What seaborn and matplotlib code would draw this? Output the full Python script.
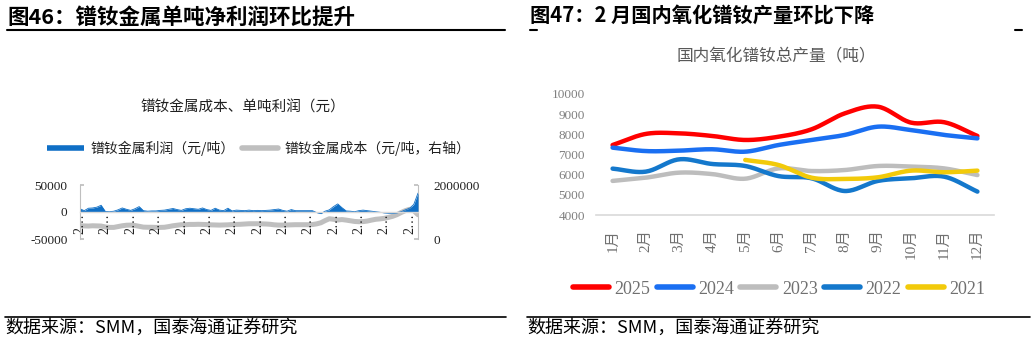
import numpy as np
import pandas as pd
import matplotlib
matplotlib.use("Agg")
import matplotlib.pyplot as plt
import seaborn as sns
from matplotlib.lines import Line2D

sns.set_theme(style="white")
plt.rcParams['font.family'] = ['Noto Sans CJK SC', 'DejaVu Sans']
plt.rcParams['axes.unicode_minus'] = False

SERIF = ['Liberation Serif', 'Noto Sans CJK SC', 'DejaVu Sans']

# ---------------- Left chart data (figure 46) ----------------
profit = [6000, 2500, 7000, 7500, 9000, 12500, 1000, 500, 1500, 4000,
          7500, 5000, 3000, 6000, 10000, 2500, 1500, 2000, 2000, 3000,
          3500, 5000, 6500, 4500, 3000, 6000, 7000, 6000, 5000, 7500,
          4500, 3000, 7000, 3500, 2500, 7000, 2000, 3500, 3000, 2500,
          3500, 2500, 3000, 2500, 3000, 3500, 4500, 5500, 3000, 1500,
          4500, 2500, 2500, 2500, 2500, 2500, -1000, -3000, 1500, 4000,
          10000, 15000, 8000, 2000, 1500, 500, 2500, 3500, 2500, 1500,
          500, -500, -1500, -2000, -2000, -1500, 500, 4000, 7000, 14000,
          35000]
cost = [490000, 485000, 480000, 490000, 485000, 480000, 445000, 430000, 430000, 460000,
        490000, 510000, 515000, 500000, 470000, 440000, 435000, 435000, 430000, 430000,
        435000, 460000, 490000, 510000, 530000, 530000, 540000, 540000, 545000, 540000,
        535000, 525000, 520000, 515000, 520000, 525000, 535000, 540000, 545000, 555000,
        565000, 565000, 565000, 560000, 555000, 545000, 525000, 515000, 515000, 520000,
        525000, 530000, 530000, 530000, 530000, 535000, 560000, 600000, 680000, 750000,
        730000, 705000, 720000, 700000, 675000, 650000, 640000, 645000, 665000, 700000,
        730000, 745000, 765000, 800000, 840000, 900000, 980000, 1050000, 1100000, 1050000,
        900000]
left_tick_step = 6
left_tick_text = "2…"
left_series = ["镨钕金属利润（元/吨）", "镨钕金属成本（元/吨，右轴）"]
left_yticks = [-50000, 0, 50000]
left_y2ticks = [0, 2000000]

# ---------------- Right chart data (figure 47) ----------------
months = ["1月", "2月", "3月", "4月", "5月", "6月", "7月", "8月", "9月", "10月", "11月", "12月"]
y2025 = [7470, 8020, 8050, 7920, 7720, 7880, 8250, 9040, 9370, 8580, 8600, 7920]
y2024 = [7340, 7170, 7190, 7260, 7140, 7470, 7720, 7970, 8380, 8210, 7970, 7800]
y2023 = [5690, 5850, 6100, 6030, 5800, 6310, 6180, 6230, 6430, 6400, 6310, 5980]
y2022 = [6300, 6150, 6760, 6530, 6430, 5930, 5820, 5190, 5690, 5820, 5900, 5160]
y2021 = [np.nan, np.nan, np.nan, np.nan, 6730, 6480, 5850, 5790, 5870, 6200, 6120, 6200]
years = ["2025", "2024", "2023", "2022", "2021"]
colors = ["#FF0000", "#1A6FF2", "#BDBDBD", "#1478CC", "#F2CA0A"]

W, H = 1032, 342
fig = plt.figure(figsize=(W / 100, H / 100), dpi=100)
fig.patch.set_facecolor("white")


def fx(px):
    return px / W


def fy(py):
    return 1 - py / H


def smooth(xs, ys, steps=20):
    xs = np.asarray(xs, float)
    ys = np.asarray(ys, float)
    px = np.concatenate([[2 * xs[0] - xs[1]], xs, [2 * xs[-1] - xs[-2]]])
    py = np.concatenate([[2 * ys[0] - ys[1]], ys, [2 * ys[-1] - ys[-2]]])
    ox, oy = [], []
    t = np.linspace(0, 1, steps, endpoint=False)
    for i in range(1, len(px) - 2):
        for arr, out in ((px, ox), (py, oy)):
            p0, p1, p2, p3 = arr[i - 1:i + 3]
            out.extend(0.5 * (2 * p1 + (-p0 + p2) * t + (2 * p0 - 5 * p1 + 4 * p2 - p3) * t ** 2
                              + (-p0 + 3 * p1 - 3 * p2 + p3) * t ** 3))
    ox.append(xs[-1])
    oy.append(ys[-1])
    return np.array(ox), np.array(oy)


# ================= Left chart =================
axL = fig.add_axes([fx(80), fy(239), fx(338), 54 / H])
xL = np.arange(len(profit))
dfL = pd.DataFrame({"x": xL, "profit": profit, "cost": cost})
axL.fill_between(dfL["x"], 0, dfL["profit"], color="#0F6FC6", lw=0, zorder=2)
sns.lineplot(data=dfL, x="x", y="profit", ax=axL, color="#0F6FC6", lw=0.6, zorder=2)

axL2 = axL.twinx()
sns.lineplot(data=dfL, x="x", y="cost", ax=axL2, color="#BFBFBF", lw=3.6, zorder=3)

axL.set_xlim(0, len(profit) - 1)
axL.set_ylim(-50000, 50000)
axL.set_yticks(left_yticks)
axL.set_yticklabels([f"{v}" for v in left_yticks])
ticks = list(range(0, len(profit), left_tick_step))
axL.set_xticks(ticks)
axL.set_xticklabels([left_tick_text] * len(ticks))
axL.set_xlabel("")
axL.set_ylabel("")
axL.spines["top"].set_visible(False)
axL.spines["right"].set_visible(False)
axL.spines["bottom"].set_position(("data", 0))
axL.spines["bottom"].set_color("#D9D9D9")
axL.spines["bottom"].set_linewidth(1.0)
axL.spines["left"].set_color("#BFBFBF")
axL.spines["left"].set_linewidth(0.8)
axL.tick_params(axis="x", length=0, pad=1, labelrotation=90, labelsize=10, labelcolor="#202020")
axL.tick_params(axis="y", direction="in", length=3, color="#BFBFBF", pad=9,
                labelsize=9.5, labelcolor="#202020")
axL.set_facecolor("none")

axL2.set_ylim(0, 2000000)
axL2.set_yticks(left_y2ticks)
axL2.set_yticklabels([f"{v}" for v in left_y2ticks])
axL2.set_ylabel("")
axL2.set_xlabel("")
for s in ["top", "left", "bottom"]:
    axL2.spines[s].set_visible(False)
axL2.spines["right"].set_color("#BFBFBF")
axL2.spines["right"].set_linewidth(0.8)
axL2.tick_params(axis="y", direction="in", length=3, color="#BFBFBF", pad=11,
                 labelsize=9.5, labelcolor="#202020")
# category labels sit on top of the cost line, as in the reference
axL.set_zorder(axL2.get_zorder() + 1)

fig.text(fx(243), fy(108), "镨钕金属成本、单吨利润（元）", fontsize=10.5, color="#202020",
         ha="center", va="center")
hL = [Line2D([], [], color="#0F6FC6", lw=4, solid_capstyle="butt"),
      Line2D([], [], color="#BFBFBF", lw=4, solid_capstyle="round")]
fig.legend(hL, left_series, loc="center", bbox_to_anchor=(fx(259), fy(148)), ncol=2,
           frameon=False, fontsize=10, handlelength=2.6, handletextpad=0.5,
           columnspacing=0.5, labelcolor="#202020")

# ================= Right chart =================
axR = fig.add_axes([fx(596), fy(215), fx(398), 121 / H])
xs = np.arange(len(months))
for name, vals, col in zip(years, [y2025, y2024, y2023, y2022, y2021], colors):
    v = np.asarray(vals, float)
    mask = ~np.isnan(v)
    sx, sy = smooth(xs[mask], v[mask])
    d = pd.DataFrame({"x": sx, "y": sy})
    sns.lineplot(data=d, x="x", y="y", ax=axR, color=col, lw=3.2, sort=False,
                 estimator=None, solid_capstyle="round")
axR.set_xlim(-0.5, len(months) - 0.5)
axR.set_ylim(4000, 10000)
axR.set_yticks(range(4000, 10001, 1000))
axR.set_yticklabels([str(v) for v in range(4000, 10001, 1000)])
axR.set_xticks(xs)
axR.set_xticklabels(months)
axR.set_xlabel("")
axR.set_ylabel("")
for s in ["top", "left", "right"]:
    axR.spines[s].set_visible(False)
axR.spines["bottom"].set_color("#D9D9D9")
axR.spines["bottom"].set_linewidth(1.2)
axR.tick_params(axis="x", length=0, pad=10, labelrotation=90, labelsize=11, labelcolor="#707070")
axR.tick_params(axis="y", length=0, pad=8, labelsize=9.5, labelcolor="#808080")
axR.set_facecolor("none")

# serif fonts for numeric tick labels
for lab in (axL.get_xticklabels() + axL.get_yticklabels() + axL2.get_yticklabels()
            + axR.get_xticklabels() + axR.get_yticklabels()):
    lab.set_family(SERIF)

fig.text(fx(776), fy(57), "国内氧化镨钕总产量（吨）", fontsize=12, color="#595959",
         ha="center", va="center")
hR = [Line2D([], [], color=c, lw=4, solid_capstyle="round") for c in colors]
fig.legend(hR, years, loc="center", bbox_to_anchor=(fx(779), fy(289)), ncol=5,
           frameon=False, prop={"family": SERIF, "size": 13}, handlelength=2.0,
           handletextpad=0.3, columnspacing=0.35, labelcolor="#707070")

# ================= Titles / frame =================
fig.text(fx(7), fy(17), "图46：镨钕金属单吨净利润环比提升", fontsize=15.5, weight="bold",
         color="black", ha="left", va="center")
fig.add_artist(Line2D([fx(7), fx(505)], [fy(30), fy(30)], color="black", lw=1.5))
fig.text(fx(530), fy(16), "图47：2 月国内氧化镨钕产量环比下降", fontsize=14.6, weight="bold",
         color="black", ha="left", va="center")
fig.add_artist(Line2D([fx(530), fx(537)], [fy(30), fy(30)], color="black", lw=1.5))
fig.add_artist(Line2D([fx(1015), fx(1022)], [fy(30), fy(30)], color="black", lw=1.5))

fig.add_artist(Line2D([fx(5), fx(506)], [fy(317), fy(317)], color="black", lw=1.2))
fig.add_artist(Line2D([fx(527), fx(1030)], [fy(317), fy(317)], color="black", lw=1.2))
src = "数据来源：SMM，国泰海通证券研究"
fig.text(fx(5), fy(328), src, fontsize=13, color="black", ha="left", va="center")
fig.text(fx(527), fy(328), src, fontsize=13, color="black", ha="left", va="center")

fig.savefig("out.png", dpi=100, facecolor="white")
